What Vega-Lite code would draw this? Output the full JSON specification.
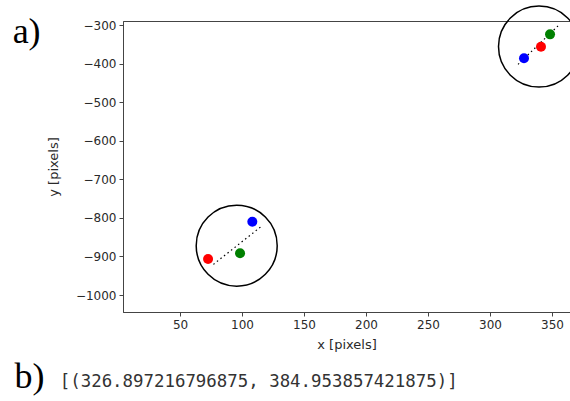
{
  "$schema": "https://vega.github.io/schema/vega-lite/v6.json",
  "width": 447,
  "height": 291,
  "autosize": {"type": "none"},
  "padding": {"left": 123, "top": 21, "right": 0, "bottom": 89},
  "background": "white",
  "config": {
    "view": {"stroke": "#444", "strokeWidth": 1},
    "axis": {
      "grid": false,
      "labelFont": "DejaVu Sans",
      "labelFontSize": 12,
      "labelColor": "#2a2a2a",
      "titleFont": "DejaVu Sans",
      "titleFontSize": 13,
      "titleFontWeight": "normal",
      "titleColor": "#2a2a2a",
      "domainColor": "#444",
      "tickColor": "#444",
      "tickSize": 4,
      "labelPadding": 3
    }
  },
  "datasets": {
    "pts": [
      {"x": 72.6, "y": -906.7, "c": "red"},
      {"x": 98.4, "y": -891.9, "c": "green"},
      {"x": 108.3, "y": -810.0, "c": "blue"},
      {"x": 327.4, "y": -386.4, "c": "blue"},
      {"x": 341.1, "y": -356.2, "c": "red"},
      {"x": 348.4, "y": -324.2, "c": "green"}
    ],
    "circ": [
      {"x": 95.7, "y": -872.0},
      {"x": 339.5, "y": -356.0}
    ],
    "seg": [
      {"x": 76.9, "y": -920.5, "s": "a"},
      {"x": 115.9, "y": -821.2, "s": "a"},
      {"x": 322.6, "y": -402.0, "s": "b"},
      {"x": 354.8, "y": -302.5, "s": "b"}
    ],
    "lab": [
      {"x": -85.0, "y": -346.7, "t": "a)"},
      {"x": -83.5, "y": -1241.0, "t": "b)"}
    ],
    "out": [
      {"x": -47.0, "y": -1238.6, "t": "[(326.897216796875, 384.953857421875)]"}
    ]
  },
  "encoding": {
    "x": {"field": "x", "type": "quantitative", "scale": {"domain": [4.0, 364.5], "nice": false, "zero": false},
          "axis": {"title": "x [pixels]", "format": "d", "values": [50, 100, 150, 200, 250, 300, 350], "titlePadding": 8}},
    "y": {"field": "y", "type": "quantitative", "scale": {"domain": [-1044, -289.6], "nice": false, "zero": false},
          "axis": {"title": "y [pixels]", "format": "d", "values": [-1000, -900, -800, -700, -600, -500, -400, -300], "titlePadding": 15}}
  },
  "layer": [
    {
      "data": {"name": "circ"},
      "mark": {"type": "point", "shape": "circle", "filled": false, "size": 6560, "stroke": "black", "strokeWidth": 1.5, "opacity": 1, "clip": false}
    },
    {
      "data": {"name": "seg"},
      "mark": {"type": "line", "color": "black", "strokeWidth": 1.2, "strokeDash": [1.5, 3], "clip": false},
      "encoding": {"detail": {"field": "s"}}
    },
    {
      "data": {"name": "pts"},
      "mark": {"type": "circle", "size": 100, "opacity": 1},
      "encoding": {
        "color": {"field": "c", "type": "nominal", "scale": {"domain": ["red", "green", "blue"], "range": ["#ff0000", "#008000", "#0000ff"]}, "legend": null}
      }
    },
    {
      "data": {"name": "lab"},
      "mark": {"type": "text", "font": "Liberation Serif", "fontSize": 36, "align": "left", "baseline": "alphabetic", "color": "black", "clip": false},
      "encoding": {"text": {"field": "t"}}
    },
    {
      "data": {"name": "out"},
      "mark": {"type": "text", "font": "DejaVu Sans Mono", "fontSize": 17.4, "align": "left", "baseline": "alphabetic", "color": "#333", "clip": false},
      "encoding": {"text": {"field": "t"}}
    }
  ]
}
